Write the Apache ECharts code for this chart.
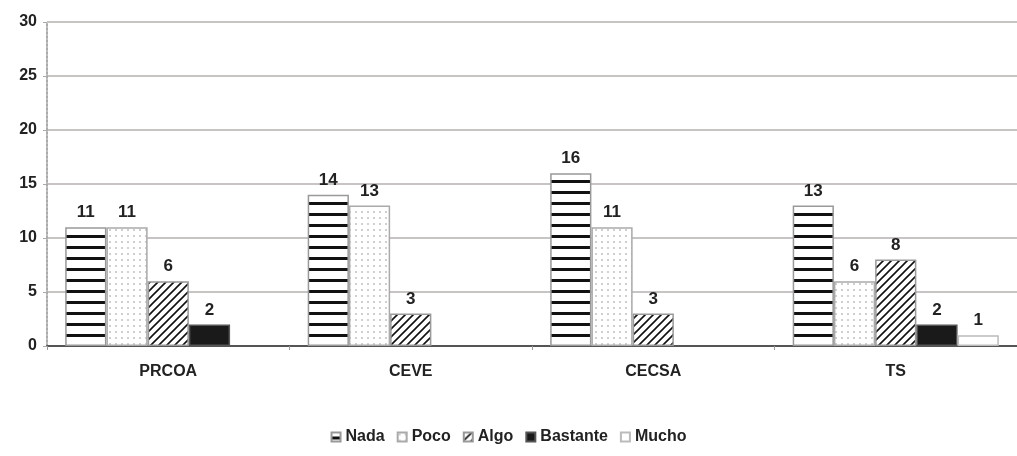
<!DOCTYPE html>
<html>
<head>
<meta charset="UTF-8">
<title>index.html</title>
<script src="https://cdn.jsdelivr.net/npm/echarts@6/dist/echarts.min.js"></script>
<style>
html, body { margin: 0; padding: 0; background: #fff; }
#main { width: 1017px; height: 456px; }
</style>
</head>
<body>
<div id="main"></div>
<script>
var categories = ['PRCOA', 'CEVE', 'CECSA', 'TS'];
var nada = [11, 14, 16, 13];
var poco = [11, 13, 11, 6];
var algo = [6, 3, 3, 8];
var bastante = [2, null, null, 2];
var mucho = [null, null, null, 1];
var yTicks = [0, 5, 10, 15, 20, 25, 30];

// fill patterns
function pattern(w, h, draw) {
  var c = document.createElement('canvas');
  c.width = w; c.height = h;
  var ctx = c.getContext('2d');
  ctx.fillStyle = '#fff';
  ctx.fillRect(0, 0, w, h);
  draw(ctx);
  return { image: c, repeat: 'repeat' };
}
var stripes = pattern(8, 11, function (ctx) {
  ctx.fillStyle = '#111';
  ctx.fillRect(0, 4, 8, 3);
});
var dots = pattern(6, 6, function (ctx) {
  ctx.fillStyle = '#cfcfcf';
  ctx.fillRect(1, 1, 2, 2);
});
var hatch = pattern(8, 8, function (ctx) {
  ctx.strokeStyle = '#111';
  ctx.lineWidth = 1.6;
  ctx.beginPath();
  ctx.moveTo(-2, 10); ctx.lineTo(10, -2);
  ctx.moveTo(-6, 6); ctx.lineTo(6, -6);
  ctx.moveTo(2, 14); ctx.lineTo(14, 2);
  ctx.stroke();
});

var font = { color: '#222', fontFamily: 'Liberation Sans', fontWeight: 'bold', fontSize: 16 };

var lbl = {
  show: true,
  position: 'top',
  distance: 6,
  color: font.color,
  fontFamily: font.fontFamily,
  fontWeight: 'bold',
  fontSize: 17
};

function bar(name, data, fill, border) {
  return {
    name: name,
    type: 'bar',
    data: data,
    barGap: '0%',
    barCategoryGap: '15%',
    itemStyle: { color: fill, borderColor: border, borderWidth: 1.5 },
    label: lbl
  };
}

var myChart = echarts.init(document.getElementById('main'));
var option = {
  animation: false,
  grid: { left: 47, right: 0, top: 22, bottom: 110, containLabel: false },
  legend: {
    bottom: 6,
    left: 'center',
    icon: 'rect',
    itemWidth: 9,
    itemHeight: 9,
    itemGap: 12,
    textStyle: font,
    data: ['Nada', 'Poco', 'Algo', 'Bastante', 'Mucho']
  },
  xAxis: {
    type: 'category',
    data: categories,
    axisLine: { lineStyle: { color: '#555', width: 2 } },
    axisTick: { show: true, length: 4, lineStyle: { color: '#999' } },
    axisLabel: Object.assign({ margin: 18 }, font)
  },
  yAxis: {
    type: 'value',
    min: yTicks[0],
    max: yTicks[yTicks.length - 1],
    interval: 5,
    axisLine: { show: true, lineStyle: { color: '#aaa', width: 2, type: 'dotted' } },
    axisTick: { show: true, length: 4, lineStyle: { color: '#aaa' } },
    axisLabel: Object.assign({ margin: 10 }, font),
    splitLine: { lineStyle: { color: '#c9c4c4', width: 2 } }
  },
  series: [
    bar('Nada', nada, stripes, '#999'),
    bar('Poco', poco, dots, '#aaa'),
    bar('Algo', algo, hatch, '#999'),
    bar('Bastante', bastante, '#1a1a1a', '#555'),
    bar('Mucho', mucho, '#fff', '#bbb')
  ]
};
myChart.setOption(option);
</script>
</body>
</html>
